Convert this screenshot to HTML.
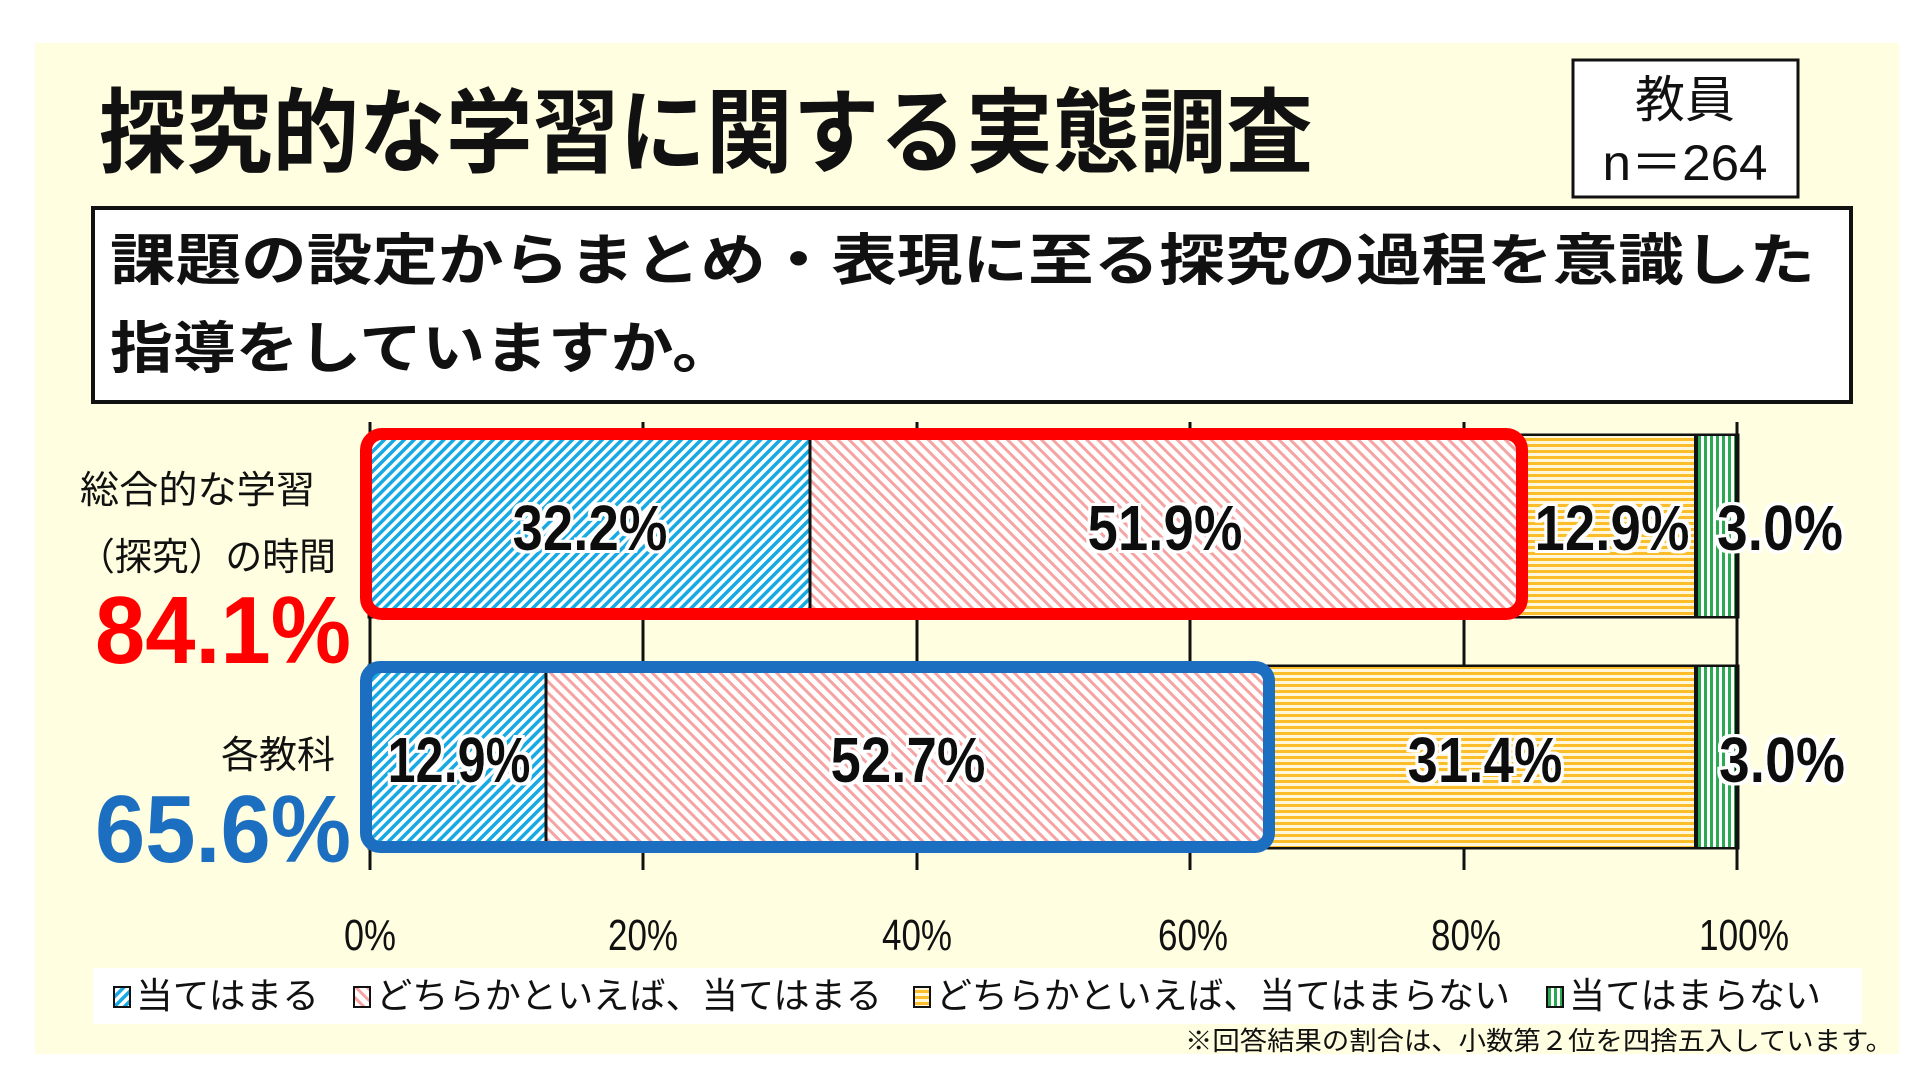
<!DOCTYPE html>
<html><head><meta charset="utf-8"><style>
html,body{margin:0;padding:0;background:#fff;}
svg{display:block}
text{font-family:"Liberation Sans","Noto Sans CJK JP",sans-serif;}
</style></head><body>
<svg width="1924" height="1083" viewBox="0 0 1924 1083" xmlns="http://www.w3.org/2000/svg">
<defs>
<pattern id="pb" width="7" height="7" patternUnits="userSpaceOnUse" patternTransform="rotate(45)"><rect width="7" height="7" fill="#fff"/><rect width="3.5" height="7" fill="#17a9e3"/></pattern>
<pattern id="pp" width="8" height="8" patternUnits="userSpaceOnUse" patternTransform="rotate(-45)"><rect width="8" height="8" fill="#fff"/><rect width="3" height="8" fill="#f5a3a3"/></pattern>
<pattern id="py" width="6" height="6" patternUnits="userSpaceOnUse"><rect width="6" height="6" fill="#fff7dc"/><rect width="6" height="3" fill="#fbbd2a"/></pattern>
<pattern id="pg" width="6" height="6" patternUnits="userSpaceOnUse"><rect width="6" height="6" fill="#fff"/><rect width="3" height="6" fill="#2aa852"/></pattern>
<filter id="wo"><feMorphology in="SourceAlpha" operator="dilate" radius="3" result="d"/><feFlood flood-color="#fff"/><feComposite in2="d" operator="in" result="w"/><feMerge><feMergeNode in="w"/><feMergeNode in="SourceGraphic"/></feMerge></filter>
</defs>
<rect x="35" y="43" width="1864" height="1011" fill="#fffee0"/>
<text x="99" y="165" font-size="92" font-weight="bold" fill="#111" textLength="1214" lengthAdjust="spacingAndGlyphs">探究的な学習に関する実態調査</text>
<rect x="1573" y="60" width="225" height="137" fill="#fff" stroke="#111" stroke-width="3"/>
<text x="1685" y="117" font-size="50" text-anchor="middle" fill="#111">教員</text>
<text x="1685" y="180" font-size="50" text-anchor="middle" fill="#111" textLength="165" lengthAdjust="spacingAndGlyphs">n＝264</text>
<rect x="93" y="208" width="1758" height="194" fill="#fff" stroke="#111" stroke-width="4"/>
<text x="110" y="280" font-size="56" font-weight="bold" fill="#111" textLength="1705" lengthAdjust="spacingAndGlyphs">課題の設定からまとめ・表現に至る探究の過程を意識した</text>
<text x="110" y="368" font-size="56" font-weight="bold" fill="#111" textLength="625" lengthAdjust="spacingAndGlyphs">指導をしていますか。</text>
<g stroke="#111" stroke-width="3">
<line x1="370" y1="422" x2="370" y2="870"/><line x1="643" y1="422" x2="643" y2="870"/><line x1="917" y1="422" x2="917" y2="870"/><line x1="1190" y1="422" x2="1190" y2="870"/><line x1="1464" y1="422" x2="1464" y2="870"/><line x1="1737" y1="422" x2="1737" y2="870"/>
</g>
<rect x="370" y="436" width="1367" height="180" fill="#fff" stroke="#111" stroke-width="5"/>
<rect x="370" y="436" width="440" height="180" fill="url(#pb)"/>
<rect x="810" y="436" width="710" height="180" fill="url(#pp)"/>
<line x1="810" y1="436" x2="810" y2="616" stroke="#111" stroke-width="3"/>
<rect x="1520" y="436" width="176" height="180" fill="url(#py)"/>
<rect x="1696" y="436" width="39" height="180" fill="url(#pg)"/>
<line x1="1696" y1="436" x2="1696" y2="616" stroke="#111" stroke-width="4"/>
<rect x="366" y="434" width="1156" height="180" rx="16" fill="none" stroke="#f00" stroke-width="12"/>
<rect x="370" y="667" width="1367" height="180" fill="#fff" stroke="#111" stroke-width="5"/>
<rect x="370" y="667" width="176" height="180" fill="url(#pb)"/>
<rect x="546" y="667" width="721" height="180" fill="url(#pp)"/>
<line x1="546" y1="667" x2="546" y2="847" stroke="#111" stroke-width="3"/>
<rect x="1267" y="667" width="429" height="180" fill="url(#py)"/>
<rect x="1696" y="667" width="39" height="180" fill="url(#pg)"/>
<line x1="1696" y1="667" x2="1696" y2="847" stroke="#111" stroke-width="4"/>
<rect x="366" y="667" width="903" height="180" rx="14" fill="none" stroke="#1c6fc0" stroke-width="12"/>
<g font-size="64" font-weight="bold" fill="#111" text-anchor="middle" filter="url(#wo)">
<text x="590" y="550" textLength="155" lengthAdjust="spacingAndGlyphs">32.2%</text>
<text x="1165" y="550" textLength="155" lengthAdjust="spacingAndGlyphs">51.9%</text>
<text x="1612" y="550" textLength="155" lengthAdjust="spacingAndGlyphs">12.9%</text>
<text x="1780" y="550" textLength="126" lengthAdjust="spacingAndGlyphs">3.0%</text>
<text x="459" y="782" textLength="143" lengthAdjust="spacingAndGlyphs">12.9%</text>
<text x="908" y="782" textLength="155" lengthAdjust="spacingAndGlyphs">52.7%</text>
<text x="1485" y="782" textLength="155" lengthAdjust="spacingAndGlyphs">31.4%</text>
<text x="1782" y="782" textLength="126" lengthAdjust="spacingAndGlyphs">3.0%</text>
</g>
<text x="80" y="503" font-size="38" fill="#111" textLength="235" lengthAdjust="spacingAndGlyphs">総合的な学習</text>
<text x="78" y="570" font-size="38" fill="#111" textLength="258" lengthAdjust="spacingAndGlyphs">（探究）の時間</text>
<text x="95" y="663" font-size="96" font-weight="bold" fill="#f00" textLength="256" lengthAdjust="spacingAndGlyphs">84.1%</text>
<text x="335" y="768" font-size="38" fill="#111" text-anchor="end">各教科</text>
<text x="95" y="862" font-size="96" font-weight="bold" fill="#1c6fc0" textLength="256" lengthAdjust="spacingAndGlyphs">65.6%</text>
<g font-size="44" fill="#111" text-anchor="middle">
<text x="370" y="950" textLength="52" lengthAdjust="spacingAndGlyphs">0%</text>
<text x="643" y="950" textLength="70" lengthAdjust="spacingAndGlyphs">20%</text>
<text x="917" y="950" textLength="70" lengthAdjust="spacingAndGlyphs">40%</text>
<text x="1193" y="950" textLength="70" lengthAdjust="spacingAndGlyphs">60%</text>
<text x="1466" y="950" textLength="70" lengthAdjust="spacingAndGlyphs">80%</text>
<text x="1744" y="950" textLength="90" lengthAdjust="spacingAndGlyphs">100%</text>
</g>
<rect x="93" y="968" width="1769" height="56" fill="#fff"/>
<rect x="114" y="987" width="16" height="20" fill="url(#pb)" stroke="#111" stroke-width="2"/>
<text x="136" y="1008" font-size="36" fill="#111" textLength="183" lengthAdjust="spacingAndGlyphs">当てはまる</text>
<rect x="354" y="987" width="16" height="20" fill="url(#pp)" stroke="#111" stroke-width="2"/>
<text x="376" y="1008" font-size="36" fill="#111" textLength="506" lengthAdjust="spacingAndGlyphs">どちらかといえば、当てはまる</text>
<rect x="914" y="987" width="16" height="20" fill="url(#py)" stroke="#111" stroke-width="2"/>
<text x="936" y="1008" font-size="36" fill="#111" textLength="574" lengthAdjust="spacingAndGlyphs">どちらかといえば、当てはまらない</text>
<rect x="1547" y="987" width="16" height="20" fill="url(#pg)" stroke="#111" stroke-width="2"/>
<text x="1569" y="1008" font-size="36" fill="#111" textLength="252" lengthAdjust="spacingAndGlyphs">当てはまらない</text>
<text x="1893" y="1050" font-size="26" fill="#111" text-anchor="end" textLength="708" lengthAdjust="spacingAndGlyphs">※回答結果の割合は、小数第２位を四捨五入しています。</text>
</svg>
</body></html>
